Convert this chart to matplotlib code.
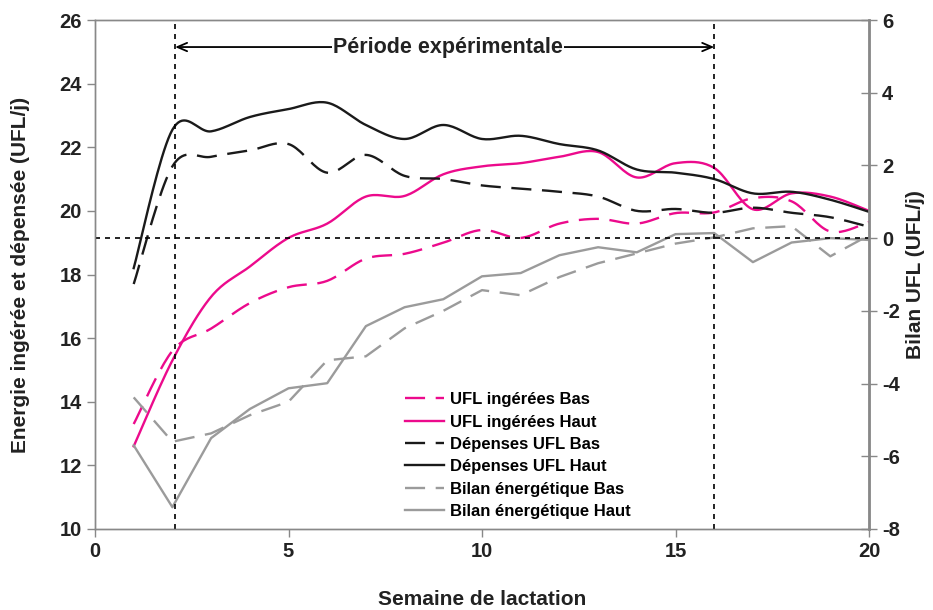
import numpy as np
import matplotlib
matplotlib.use("Agg")
import matplotlib.pyplot as plt

plt.rcParams['font.family'] = ['Liberation Sans', 'DejaVu Sans']
plt.rcParams['font.weight'] = 'bold'
plt.rcParams['axes.unicode_minus'] = False

weeks = list(range(1, 21))

ufl_ing_bas = [13.3, 15.6, 16.3, 17.1, 17.6, 17.8, 18.5, 18.65, 19.0, 19.4,
               19.15, 19.6, 19.75, 19.6, 19.93, 19.95, 20.4, 20.3, 19.35, 19.65]
ufl_ing_haut = [12.6, 15.3, 17.3, 18.25, 19.15, 19.6, 20.45, 20.47, 21.15, 21.4,
                21.5, 21.7, 21.85, 21.05, 21.5, 21.35, 20.05, 20.55, 20.45, 20.0]
dep_bas = [17.7, 21.4, 21.7, 21.9, 22.1, 21.2, 21.76, 21.1, 21.0, 20.8,
           20.7, 20.6, 20.45, 20.0, 20.06, 19.94, 20.1, 19.94, 19.8, 19.5]
dep_haut = [18.2, 22.55, 22.5, 22.95, 23.2, 23.4, 22.7, 22.26, 22.7, 22.26,
            22.36, 22.1, 21.9, 21.3, 21.2, 21.0, 20.55, 20.6, 20.35, 19.97]
bilan_bas = [-4.38, -5.6, -5.37, -4.87, -4.5, -3.36, -3.25, -2.48, -2.0, -1.43,
             -1.57, -1.07, -0.69, -0.42, -0.15, 0.02, 0.27, 0.33, -0.5, 0.08]
bilan_haut = [-5.7, -7.4, -5.5, -4.7, -4.13, -3.99, -2.42, -1.9, -1.68, -1.05,
              -0.96, -0.47, -0.25, -0.39, 0.11, 0.14, -0.66, -0.12, 0.0, -0.05]

labels = ["UFL ingérées Bas", "UFL ingérées Haut", "Dépenses UFL Bas",
          "Dépenses UFL Haut", "Bilan énergétique Bas", "Bilan énergétique Haut"]

period_start, period_end = 2.07, 16.0
period_label = "Période expérimentale"

PINK = "#EC0A8C"
BLACK = "#1a1a1a"
GRAY = "#9b9b9b"


def smooth(x, y, n=20):
    """Excel-like smoothed line (Catmull-Rom / Bezier)."""
    x = np.asarray(x, float)
    y = np.asarray(y, float)
    P = np.column_stack([x, y])
    Pext = np.vstack([P[0], P, P[-1]])
    out = []
    t = np.linspace(0, 1, n, endpoint=False)
    for i in range(len(P) - 1):
        p0, p1, p2, p3 = Pext[i], Pext[i + 1], Pext[i + 2], Pext[i + 3]
        b1 = p1 + (p2 - p0) / 6.0
        b2 = p2 - (p3 - p1) / 6.0
        for tt in t:
            pt = ((1 - tt) ** 3) * p1 + 3 * ((1 - tt) ** 2) * tt * b1 + 3 * (1 - tt) * tt ** 2 * b2 + tt ** 3 * p2
            out.append(pt)
    out.append(P[-1])
    out = np.array(out)
    return out[:, 0], out[:, 1]


fig = plt.figure(figsize=(9.33, 6.10), dpi=100)
ax = fig.add_axes([95 / 933, 1 - 529 / 610, (869 - 95) / 933, (529 - 20) / 610])
ax2 = ax.twinx()

lw = 1.7
dash = (0, (8.5, 4.5))
h1, = ax.plot(*smooth(weeks, ufl_ing_bas), color=PINK, lw=lw, linestyle=dash)
h2, = ax.plot(*smooth(weeks, ufl_ing_haut), color=PINK, lw=lw)
h3, = ax.plot(*smooth(weeks, dep_bas), color=BLACK, lw=lw, linestyle=dash)
h4, = ax.plot(*smooth(weeks, dep_haut), color=BLACK, lw=lw)
h5, = ax2.plot(weeks, bilan_bas, color=GRAY, lw=lw, linestyle=dash)
h6, = ax2.plot(weeks, bilan_haut, color=GRAY, lw=lw)

ax.set_xlim(0, 20)
ax.set_ylim(10, 26)
ax2.set_ylim(-8, 6)
ax.set_xticks([0, 5, 10, 15, 20])
ax.set_yticks(range(10, 27, 2))
ax2.set_yticks(range(-8, 7, 2))

# reference lines
ax2.axhline(0, color="black", lw=1.2, linestyle=(0, (3, 3)))
ax2.axvline(period_start, color="black", lw=1.2, linestyle=(0, (3, 3)))
ax2.axvline(period_end, color="black", lw=1.2, linestyle=(0, (3, 3)))

# period arrow
yarr = 25.15
ax.annotate("", xy=(period_start, yarr), xytext=(period_end, yarr),
            arrowprops=dict(arrowstyle="<->,head_length=0.7,head_width=0.3",
                            color="black", lw=1.3, shrinkA=0, shrinkB=0))
ax.text(9.12, yarr, period_label, ha="center", va="center", fontsize=15.5,
        fontweight="bold", color="#222222",
        bbox=dict(facecolor="white", edgecolor="none", pad=1))

for a in (ax, ax2):
    for s in a.spines.values():
        s.set_color("#888888")
        s.set_linewidth(1.0)
ax2.spines['right'].set_linewidth(2.0)

ax.tick_params(axis="both", colors="#888888", labelcolor="#222222",
               labelsize=14.5, length=6, width=1.0)
ax2.tick_params(axis="y", direction="inout", colors="#888888",
                labelcolor="#222222", labelsize=14.5, length=12, width=1.0)
for lab in ax.get_xticklabels() + ax.get_yticklabels() + ax2.get_yticklabels():
    lab.set_fontweight("bold")

ax.set_xlabel("Semaine de lactation", fontsize=15, fontweight="bold",
              color="#222222", labelpad=21)
ax.set_ylabel("Energie ingérée et dépensée (UFL/j)", fontsize=15,
              fontweight="bold", color="#222222", labelpad=21)
ax2.set_ylabel("Bilan UFL (UFL/j)", fontsize=15, fontweight="bold",
               color="#222222", labelpad=4)

ax2.legend([h1, h2, h3, h4, h5, h6], labels, loc="upper left",
           bbox_to_anchor=(0.390, 0.285), frameon=False,
           prop=dict(weight="bold", size=12), handlelength=2.35,
           handletextpad=0.35, labelspacing=0.44, borderpad=0)

fig.savefig("out.png", dpi=100)
